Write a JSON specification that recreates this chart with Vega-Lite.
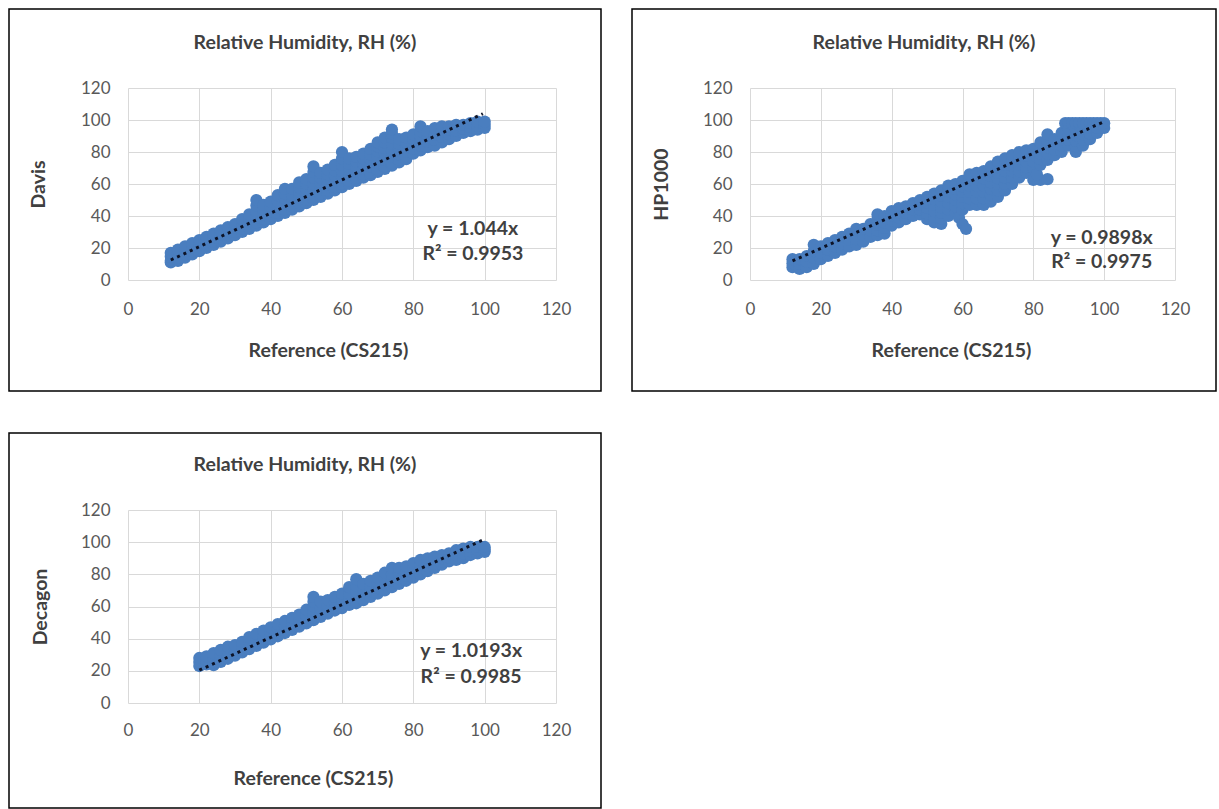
{
  "$schema": "https://vega.github.io/schema/vega-lite/v6.json",
  "padding": {"left": 8, "top": 8, "right": 0, "bottom": 0},
  "background": "white",
  "columns": 2,
  "spacing": {"row": 42, "column": 31},
  "bounds": "flush",
  "datasets": {
    "d1": [
      {"x":12,"y":11},{"x":12,"y":12},{"x":12,"y":14.5},{"x":12,"y":17},
      {"x":14,"y":12},{"x":14,"y":14},{"x":14,"y":16.5},{"x":14,"y":19},
      {"x":16,"y":14},{"x":16,"y":16},{"x":16,"y":18.5},{"x":16,"y":21},
      {"x":18,"y":16},{"x":18,"y":18},{"x":18,"y":20.5},{"x":18,"y":23},
      {"x":20,"y":18},{"x":20,"y":20},{"x":20,"y":22.5},{"x":20,"y":25},
      {"x":22,"y":20},{"x":22,"y":22},{"x":22,"y":24.5},{"x":22,"y":27},
      {"x":24,"y":22},{"x":24,"y":24},{"x":24,"y":26.5},{"x":24,"y":29},
      {"x":26,"y":24},{"x":26,"y":26},{"x":26,"y":28.5},{"x":26,"y":31},
      {"x":28,"y":26},{"x":28,"y":28},{"x":28,"y":30.5},{"x":28,"y":33},
      {"x":30,"y":28},{"x":30,"y":30},{"x":30,"y":32.5},{"x":30,"y":35},
      {"x":32,"y":30},{"x":32,"y":32},{"x":32,"y":35},{"x":32,"y":38},
      {"x":34,"y":32},{"x":34,"y":34},{"x":34,"y":37.5},{"x":34,"y":41},
      {"x":36,"y":34},{"x":36,"y":36},{"x":36,"y":39.5},{"x":36,"y":43},{"x":36,"y":46.5},{"x":36,"y":50},
      {"x":38,"y":36},{"x":38,"y":38},{"x":38,"y":41},{"x":38,"y":44},{"x":38,"y":47},
      {"x":40,"y":38},{"x":40,"y":40},{"x":40,"y":43},{"x":40,"y":46},{"x":40,"y":49},
      {"x":42,"y":40},{"x":42,"y":42},{"x":42,"y":45.5},{"x":42,"y":49},{"x":42,"y":53},
      {"x":44,"y":42},{"x":44,"y":44},{"x":44,"y":47.5},{"x":44,"y":51},{"x":44,"y":54},{"x":44,"y":57},
      {"x":46,"y":44},{"x":46,"y":46},{"x":46,"y":49.5},{"x":46,"y":53},{"x":46,"y":57},
      {"x":48,"y":46},{"x":48,"y":48},{"x":48,"y":51.5},{"x":48,"y":55},{"x":48,"y":58},{"x":48,"y":61},
      {"x":50,"y":48},{"x":50,"y":50},{"x":50,"y":53.5},{"x":50,"y":57},{"x":50,"y":60},{"x":50,"y":63},
      {"x":52,"y":50},{"x":52,"y":52},{"x":52,"y":56},{"x":52,"y":60},{"x":52,"y":64},{"x":52,"y":67.5},{"x":52,"y":71},
      {"x":54,"y":52},{"x":54,"y":54},{"x":54,"y":57.5},{"x":54,"y":61},{"x":54,"y":64},{"x":54,"y":67},
      {"x":56,"y":54},{"x":56,"y":56},{"x":56,"y":59.5},{"x":56,"y":63},{"x":56,"y":66},{"x":56,"y":69},
      {"x":58,"y":56},{"x":58,"y":58},{"x":58,"y":61.5},{"x":58,"y":65},{"x":58,"y":68.5},{"x":58,"y":72},
      {"x":60,"y":58},{"x":60,"y":60},{"x":60,"y":64},{"x":60,"y":68},{"x":60,"y":72},{"x":60,"y":76},{"x":60,"y":80},
      {"x":62,"y":60},{"x":62,"y":62},{"x":62,"y":65.5},{"x":62,"y":69},{"x":62,"y":72.5},{"x":62,"y":76},
      {"x":64,"y":62},{"x":64,"y":64},{"x":64,"y":67.5},{"x":64,"y":71},{"x":64,"y":74},{"x":64,"y":77},
      {"x":66,"y":64},{"x":66,"y":66},{"x":66,"y":69.5},{"x":66,"y":73},{"x":66,"y":76},{"x":66,"y":79},
      {"x":68,"y":65.5},{"x":68,"y":67},{"x":68,"y":71},{"x":68,"y":75},{"x":68,"y":78.5},{"x":68,"y":82},
      {"x":70,"y":67.5},{"x":70,"y":69},{"x":70,"y":73},{"x":70,"y":77},{"x":70,"y":80.5},{"x":70,"y":83.5},{"x":70,"y":86},
      {"x":72,"y":69.5},{"x":72,"y":71},{"x":72,"y":75},{"x":72,"y":79},{"x":72,"y":82.5},{"x":72,"y":86},{"x":72,"y":89},
      {"x":74,"y":71.5},{"x":74,"y":73},{"x":74,"y":77},{"x":74,"y":81},{"x":74,"y":85},{"x":74,"y":89},{"x":74,"y":91.5},{"x":74,"y":94},
      {"x":76,"y":73.5},{"x":76,"y":75},{"x":76,"y":78.5},{"x":76,"y":82},{"x":76,"y":85},{"x":76,"y":88},
      {"x":78,"y":75.5},{"x":78,"y":77},{"x":78,"y":80},{"x":78,"y":83},{"x":78,"y":86},{"x":78,"y":89},
      {"x":80,"y":79},{"x":80,"y":82},{"x":80,"y":85},{"x":80,"y":88},{"x":80,"y":91},
      {"x":82,"y":81},{"x":82,"y":84},{"x":82,"y":87},{"x":82,"y":90},{"x":82,"y":93},{"x":82,"y":96},
      {"x":84,"y":83},{"x":84,"y":86.5},{"x":84,"y":90},{"x":84,"y":93},
      {"x":86,"y":84},{"x":86,"y":87.5},{"x":86,"y":91},{"x":86,"y":95},
      {"x":88,"y":86},{"x":88,"y":89.5},{"x":88,"y":93},{"x":88,"y":96},
      {"x":90,"y":88},{"x":90,"y":91},{"x":90,"y":94},{"x":90,"y":96},
      {"x":92,"y":90},{"x":92,"y":93.5},{"x":92,"y":97},
      {"x":94,"y":92},{"x":94,"y":94.5},{"x":94,"y":97},
      {"x":96,"y":93},{"x":96,"y":95.5},{"x":96,"y":98},
      {"x":98,"y":94},{"x":98,"y":96.5},{"x":98,"y":99},
      {"x":100,"y":95},{"x":100,"y":97},{"x":100,"y":99}
    ],
    "d2": [
      {"x":12,"y":8},{"x":12,"y":10.5},{"x":12,"y":13},
      {"x":14,"y":7},{"x":14,"y":10},{"x":14,"y":13},
      {"x":16,"y":8},{"x":16,"y":11.5},{"x":16,"y":15},
      {"x":18,"y":10},{"x":18,"y":14},{"x":18,"y":18},{"x":18,"y":22},
      {"x":20,"y":13},{"x":20,"y":17},{"x":20,"y":21},
      {"x":22,"y":15},{"x":22,"y":19},{"x":22,"y":23},
      {"x":24,"y":17},{"x":24,"y":21},{"x":24,"y":25},
      {"x":26,"y":19},{"x":26,"y":23},{"x":26,"y":27},
      {"x":28,"y":21},{"x":28,"y":25},{"x":28,"y":29},
      {"x":30,"y":22},{"x":30,"y":25.5},{"x":30,"y":29},{"x":30,"y":32},
      {"x":32,"y":24},{"x":32,"y":28},{"x":32,"y":32},
      {"x":34,"y":27},{"x":34,"y":31},{"x":34,"y":35},
      {"x":36,"y":28},{"x":36,"y":31},{"x":36,"y":34.5},{"x":36,"y":38},{"x":36,"y":41},
      {"x":38,"y":29},{"x":38,"y":32.5},{"x":38,"y":36},{"x":38,"y":40},
      {"x":40,"y":34},{"x":40,"y":37},{"x":40,"y":40},{"x":40,"y":43},
      {"x":42,"y":36},{"x":42,"y":39},{"x":42,"y":42},{"x":42,"y":45},
      {"x":44,"y":38},{"x":44,"y":42},{"x":44,"y":46},
      {"x":46,"y":40},{"x":46,"y":44},{"x":46,"y":48},
      {"x":48,"y":41},{"x":48,"y":44},{"x":48,"y":47},{"x":48,"y":50},
      {"x":50,"y":38},{"x":50,"y":41.5},{"x":50,"y":45},{"x":50,"y":48.5},{"x":50,"y":52},
      {"x":52,"y":36},{"x":52,"y":39.5},{"x":52,"y":43},{"x":52,"y":47},{"x":52,"y":50.5},{"x":52,"y":54},
      {"x":54,"y":35},{"x":54,"y":38.5},{"x":54,"y":42},{"x":54,"y":45.5},{"x":54,"y":49},{"x":54,"y":52.5},{"x":54,"y":56},
      {"x":56,"y":40},{"x":56,"y":44},{"x":56,"y":48},{"x":56,"y":52},{"x":56,"y":55.5},{"x":56,"y":59},
      {"x":58,"y":42},{"x":58,"y":46},{"x":58,"y":50},{"x":58,"y":53.5},{"x":58,"y":57},{"x":58,"y":60},
      {"x":59,"y":39},{"x":60,"y":35},{"x":61,"y":32},
      {"x":60,"y":44},{"x":60,"y":48},{"x":60,"y":52},{"x":60,"y":55},{"x":60,"y":58.5},{"x":60,"y":62},
      {"x":62,"y":47},{"x":62,"y":51},{"x":62,"y":55},{"x":62,"y":59},{"x":62,"y":62.5},{"x":62,"y":66},
      {"x":64,"y":47},{"x":64,"y":51},{"x":64,"y":55},{"x":64,"y":59},{"x":64,"y":63},{"x":64,"y":67},
      {"x":66,"y":47},{"x":66,"y":51},{"x":66,"y":55},{"x":66,"y":59},{"x":66,"y":63.5},{"x":66,"y":68},
      {"x":68,"y":49},{"x":68,"y":53},{"x":68,"y":57},{"x":68,"y":61},{"x":68,"y":65},{"x":68,"y":68},{"x":68,"y":71},
      {"x":70,"y":52},{"x":70,"y":56},{"x":70,"y":60},{"x":70,"y":63.5},{"x":70,"y":67},{"x":70,"y":70.5},{"x":70,"y":74},
      {"x":72,"y":56},{"x":72,"y":60},{"x":72,"y":64},{"x":72,"y":68},{"x":72,"y":72},{"x":72,"y":76},
      {"x":74,"y":60},{"x":74,"y":64},{"x":74,"y":68},{"x":74,"y":71.5},{"x":74,"y":75},{"x":74,"y":78},
      {"x":76,"y":64},{"x":76,"y":68},{"x":76,"y":72},{"x":76,"y":76},{"x":76,"y":80},
      {"x":78,"y":67},{"x":78,"y":70.5},{"x":78,"y":74},{"x":78,"y":77.5},{"x":78,"y":81},
      {"x":80,"y":70},{"x":80,"y":74},{"x":80,"y":78},{"x":80,"y":82},
      {"x":80,"y":62.5},{"x":82,"y":62.5},{"x":84,"y":63},{"x":81,"y":66},
      {"x":82,"y":72},{"x":82,"y":75.5},{"x":82,"y":79},{"x":82,"y":82.5},{"x":82,"y":86},
      {"x":84,"y":75},{"x":84,"y":79},{"x":84,"y":83},{"x":84,"y":87},{"x":84,"y":91},
      {"x":86,"y":78},{"x":86,"y":81.5},{"x":86,"y":85},{"x":86,"y":88},
      {"x":88,"y":80},{"x":88,"y":84},{"x":88,"y":88},{"x":88,"y":92},
      {"x":89,"y":98},
      {"x":90,"y":84},{"x":90,"y":87.5},{"x":90,"y":91},{"x":90,"y":94.5},{"x":90,"y":98},
      {"x":91,"y":98},
      {"x":92,"y":80},{"x":92,"y":83.5},{"x":92,"y":87},{"x":92,"y":90.5},{"x":92,"y":94},{"x":92,"y":98},
      {"x":93,"y":98},
      {"x":94,"y":84},{"x":94,"y":87.5},{"x":94,"y":91},{"x":94,"y":94.5},{"x":94,"y":98},
      {"x":95,"y":98},
      {"x":96,"y":88},{"x":96,"y":91.5},{"x":96,"y":95},{"x":96,"y":98},
      {"x":97,"y":98},
      {"x":98,"y":92},{"x":98,"y":95},{"x":98,"y":98},
      {"x":99,"y":98},
      {"x":100,"y":95},{"x":100,"y":98}
    ],
    "d3": [
      {"x":20,"y":23},{"x":20,"y":25.5},{"x":20,"y":28},
      {"x":22,"y":24},{"x":22,"y":26.5},{"x":22,"y":29},
      {"x":24,"y":23.5},{"x":24,"y":25},{"x":24,"y":28},{"x":24,"y":31},
      {"x":26,"y":25.5},{"x":26,"y":27},{"x":26,"y":30},{"x":26,"y":33},
      {"x":28,"y":27.5},{"x":28,"y":29},{"x":28,"y":32},{"x":28,"y":35},
      {"x":30,"y":29.5},{"x":30,"y":31},{"x":30,"y":33.5},{"x":30,"y":36},
      {"x":32,"y":31.5},{"x":32,"y":33},{"x":32,"y":35.5},{"x":32,"y":38},
      {"x":34,"y":33.5},{"x":34,"y":35},{"x":34,"y":38},{"x":34,"y":41},
      {"x":36,"y":35.5},{"x":36,"y":37},{"x":36,"y":40},{"x":36,"y":43},
      {"x":38,"y":37.5},{"x":38,"y":39},{"x":38,"y":42},{"x":38,"y":45},
      {"x":40,"y":39.5},{"x":40,"y":41},{"x":40,"y":44},{"x":40,"y":47},
      {"x":42,"y":41.5},{"x":42,"y":43},{"x":42,"y":46},{"x":42,"y":49},
      {"x":44,"y":43.5},{"x":44,"y":45},{"x":44,"y":48},{"x":44,"y":51},
      {"x":46,"y":45.5},{"x":46,"y":47},{"x":46,"y":50},{"x":46,"y":53},
      {"x":48,"y":47.5},{"x":48,"y":49},{"x":48,"y":52},{"x":48,"y":55},
      {"x":50,"y":49.5},{"x":50,"y":51},{"x":50,"y":54.5},{"x":50,"y":58},
      {"x":52,"y":51.5},{"x":52,"y":53},{"x":52,"y":56.5},{"x":52,"y":60},{"x":52,"y":63},{"x":52,"y":66},
      {"x":54,"y":53.5},{"x":54,"y":55},{"x":54,"y":59},{"x":54,"y":63},
      {"x":56,"y":55.5},{"x":56,"y":57},{"x":56,"y":60.5},{"x":56,"y":64},
      {"x":58,"y":57.5},{"x":58,"y":59},{"x":58,"y":62.5},{"x":58,"y":66},
      {"x":60,"y":59},{"x":60,"y":62},{"x":60,"y":65},{"x":60,"y":68},
      {"x":62,"y":61},{"x":62,"y":64.5},{"x":62,"y":68},{"x":62,"y":72},
      {"x":64,"y":62},{"x":64,"y":65.5},{"x":64,"y":69},{"x":64,"y":73},{"x":64,"y":77},
      {"x":66,"y":64},{"x":66,"y":67.5},{"x":66,"y":71},{"x":66,"y":74},
      {"x":68,"y":66},{"x":68,"y":69.5},{"x":68,"y":73},{"x":68,"y":76},
      {"x":70,"y":68},{"x":70,"y":71.5},{"x":70,"y":75},{"x":70,"y":78},
      {"x":72,"y":70},{"x":72,"y":73.5},{"x":72,"y":77},{"x":72,"y":81},
      {"x":74,"y":72},{"x":74,"y":76},{"x":74,"y":80},{"x":74,"y":84},
      {"x":76,"y":74},{"x":76,"y":77.5},{"x":76,"y":81},{"x":76,"y":84},
      {"x":78,"y":76},{"x":78,"y":79},{"x":78,"y":82},{"x":78,"y":85},
      {"x":80,"y":78},{"x":80,"y":81},{"x":80,"y":84},{"x":80,"y":87},
      {"x":82,"y":80},{"x":82,"y":83},{"x":82,"y":86},{"x":82,"y":89},
      {"x":84,"y":82},{"x":84,"y":85},{"x":84,"y":88},{"x":84,"y":90},
      {"x":86,"y":84},{"x":86,"y":86.5},{"x":86,"y":89},{"x":86,"y":91},
      {"x":88,"y":86},{"x":88,"y":88},{"x":88,"y":90},{"x":88,"y":92},
      {"x":90,"y":88},{"x":90,"y":90.5},{"x":90,"y":93},
      {"x":92,"y":89},{"x":92,"y":92},{"x":92,"y":95},
      {"x":94,"y":90},{"x":94,"y":93},{"x":94,"y":96},
      {"x":96,"y":92},{"x":96,"y":94.5},{"x":96,"y":97},
      {"x":98,"y":93},{"x":98,"y":95},{"x":98,"y":97},
      {"x":100,"y":94},{"x":100,"y":95.5},{"x":100,"y":97}
    ],
    "t1": [{"x":12,"y":12.5},{"x":99.5,"y":103.9}],
    "t2": [{"x":12,"y":11.9},{"x":100,"y":99}],
    "t3": [{"x":20,"y":20.4},{"x":99.5,"y":101.4}]
  },
  "concat": [
    {
      "width": 592, "height": 382,
      "title": {"text": "Relative Humidity, RH (%)", "frame": "group", "anchor": "middle", "offset": -53, "baseline": "middle"},
      "resolve": {"axis": {"x": "independent"}},
      "layer": [
        {
          "data": {"name": "d1"},
          "mark": {"type": "circle", "size": 150, "color": "#4a7ebf", "opacity": 1},
          "encoding": {
            "x": {"field": "x", "type": "quantitative", "scale": {"domain": [0, 120], "range": [119, 547], "nice": false, "zero": false},
                  "axis": {"orient": "bottom", "offset": -111, "values": [0, 20, 40, 60, 80, 100, 120], "grid": false, "labelPadding": 21, "labelFlush": false, "title": "Reference (CS215)", "titleX": 319, "titleY": 70, "titleBaseline": "middle"}},
            "y": {"field": "y", "type": "quantitative", "title": "Davis", "scale": {"domain": [0, 120], "range": [271, 79], "nice": false, "zero": false},
                  "axis": {"orient": "left", "offset": -119, "values": [0, 20, 40, 60, 80, 100, 120], "grid": true, "labelPadding": 18, "titleX": -90, "titleBaseline": "middle"}}
          }
        },
        {
          "data": {"name": "t1"},
          "mark": {"type": "line", "color": "#0d1326", "strokeWidth": 3, "strokeDash": [3, 4]},
          "encoding": {
            "x": {"field": "x", "type": "quantitative", "scale": {"domain": [0, 120], "range": [119, 547], "nice": false, "zero": false},
                  "axis": {"orient": "top", "values": [0, 20, 40, 60, 80, 100, 120], "grid": true, "labels": false, "title": null}},
            "y": {"field": "y", "type": "quantitative", "title": "Davis", "scale": {"domain": [0, 120], "range": [271, 79], "nice": false, "zero": false}}
          }
        },
        {
          "data": {"values": [{}]},
          "mark": {"type": "text", "text": ["y = 1.044x", "R² = 0.9953"], "font": "Lato", "fontSize": 19.5, "fontWeight": "bold", "color": "#404040", "lineHeight": 25, "align": "center", "baseline": "middle"},
          "encoding": {
            "x": {"datum": 96.7, "type": "quantitative", "scale": {"domain": [0, 120], "range": [119, 547], "nice": false, "zero": false}, "axis": null},
            "y": {"datum": 31.9, "type": "quantitative", "title": "Davis", "scale": {"domain": [0, 120], "range": [271, 79], "nice": false, "zero": false}}
          }
        }
      ]
    },
    {
      "width": 584, "height": 382,
      "title": {"text": "Relative Humidity, RH (%)", "frame": "group", "anchor": "middle", "offset": -53, "baseline": "middle"},
      "resolve": {"axis": {"x": "independent"}},
      "layer": [
        {
          "data": {"name": "d2"},
          "mark": {"type": "circle", "size": 150, "color": "#4a7ebf", "opacity": 1},
          "encoding": {
            "x": {"field": "x", "type": "quantitative", "scale": {"domain": [0, 120], "range": [118, 543], "nice": false, "zero": false},
                  "axis": {"orient": "bottom", "offset": -111, "values": [0, 20, 40, 60, 80, 100, 120], "grid": false, "labelPadding": 21, "labelFlush": false, "title": "Reference (CS215)", "titleX": 319, "titleY": 70, "titleBaseline": "middle"}},
            "y": {"field": "y", "type": "quantitative", "title": "HP1000", "scale": {"domain": [0, 120], "range": [271, 79], "nice": false, "zero": false},
                  "axis": {"orient": "left", "offset": -118, "values": [0, 20, 40, 60, 80, 100, 120], "grid": true, "labelPadding": 18, "titleX": -89, "titleBaseline": "middle"}}
          }
        },
        {
          "data": {"name": "t2"},
          "mark": {"type": "line", "color": "#0d1326", "strokeWidth": 3, "strokeDash": [3, 4]},
          "encoding": {
            "x": {"field": "x", "type": "quantitative", "scale": {"domain": [0, 120], "range": [118, 543], "nice": false, "zero": false},
                  "axis": {"orient": "top", "values": [0, 20, 40, 60, 80, 100, 120], "grid": true, "labels": false, "title": null}},
            "y": {"field": "y", "type": "quantitative", "title": "HP1000", "scale": {"domain": [0, 120], "range": [271, 79], "nice": false, "zero": false}}
          }
        },
        {
          "data": {"values": [{}]},
          "mark": {"type": "text", "text": ["y = 0.9898x", "R² = 0.9975"], "font": "Lato", "fontSize": 19.5, "fontWeight": "bold", "color": "#404040", "lineHeight": 24, "align": "center", "baseline": "middle"},
          "encoding": {
            "x": {"datum": 99.3, "type": "quantitative", "scale": {"domain": [0, 120], "range": [118, 543], "nice": false, "zero": false}, "axis": null},
            "y": {"datum": 26.4, "type": "quantitative", "title": "HP1000", "scale": {"domain": [0, 120], "range": [271, 79], "nice": false, "zero": false}}
          }
        }
      ]
    },
    {
      "width": 592, "height": 375,
      "title": {"text": "Relative Humidity, RH (%)", "frame": "group", "anchor": "middle", "offset": -51, "baseline": "middle"},
      "resolve": {"axis": {"x": "independent"}},
      "layer": [
        {
          "data": {"name": "d3"},
          "mark": {"type": "circle", "size": 150, "color": "#4a7ebf", "opacity": 1},
          "encoding": {
            "x": {"field": "x", "type": "quantitative", "scale": {"domain": [0, 120], "range": [119, 547], "nice": false, "zero": false},
                  "axis": {"orient": "bottom", "offset": -105, "values": [0, 20, 40, 60, 80, 100, 120], "grid": false, "labelPadding": 19, "labelFlush": false, "title": "Reference (CS215)", "titleX": 304, "titleY": 75, "titleBaseline": "middle"}},
            "y": {"field": "y", "type": "quantitative", "title": "Decagon", "scale": {"domain": [0, 120], "range": [270, 77], "nice": false, "zero": false},
                  "axis": {"orient": "left", "offset": -119, "values": [0, 20, 40, 60, 80, 100, 120], "grid": true, "labelPadding": 18, "titleX": -88, "titleBaseline": "middle"}}
          }
        },
        {
          "data": {"name": "t3"},
          "mark": {"type": "line", "color": "#0d1326", "strokeWidth": 3, "strokeDash": [3, 4]},
          "encoding": {
            "x": {"field": "x", "type": "quantitative", "scale": {"domain": [0, 120], "range": [119, 547], "nice": false, "zero": false},
                  "axis": {"orient": "top", "values": [0, 20, 40, 60, 80, 100, 120], "grid": true, "labels": false, "title": null}},
            "y": {"field": "y", "type": "quantitative", "title": "Decagon", "scale": {"domain": [0, 120], "range": [270, 77], "nice": false, "zero": false}}
          }
        },
        {
          "data": {"values": [{}]},
          "mark": {"type": "text", "text": ["y = 1.0193x", "R² = 0.9985"], "font": "Lato", "fontSize": 19.5, "fontWeight": "bold", "color": "#404040", "lineHeight": 26, "align": "center", "baseline": "middle"},
          "encoding": {
            "x": {"datum": 96.2, "type": "quantitative", "scale": {"domain": [0, 120], "range": [119, 547], "nice": false, "zero": false}, "axis": null},
            "y": {"datum": 32.3, "type": "quantitative", "title": "Decagon", "scale": {"domain": [0, 120], "range": [270, 77], "nice": false, "zero": false}}
          }
        }
      ]
    }
  ],
  "config": {
    "view": {"stroke": "#000000", "strokeWidth": 1.5},
    "axis": {
      "labelFont": "Lato", "labelFontSize": 17, "labelColor": "#595959",
      "titleFont": "Lato", "titleFontSize": 19.5, "titleFontWeight": "bold", "titleColor": "#404040",
      "gridColor": "#d9d9d9", "gridWidth": 1, "ticks": false, "domain": false, "zindex": 0
    },
    "title": {"font": "Lato", "fontSize": 19.5, "fontWeight": "bold", "color": "#404040"}
  }
}
